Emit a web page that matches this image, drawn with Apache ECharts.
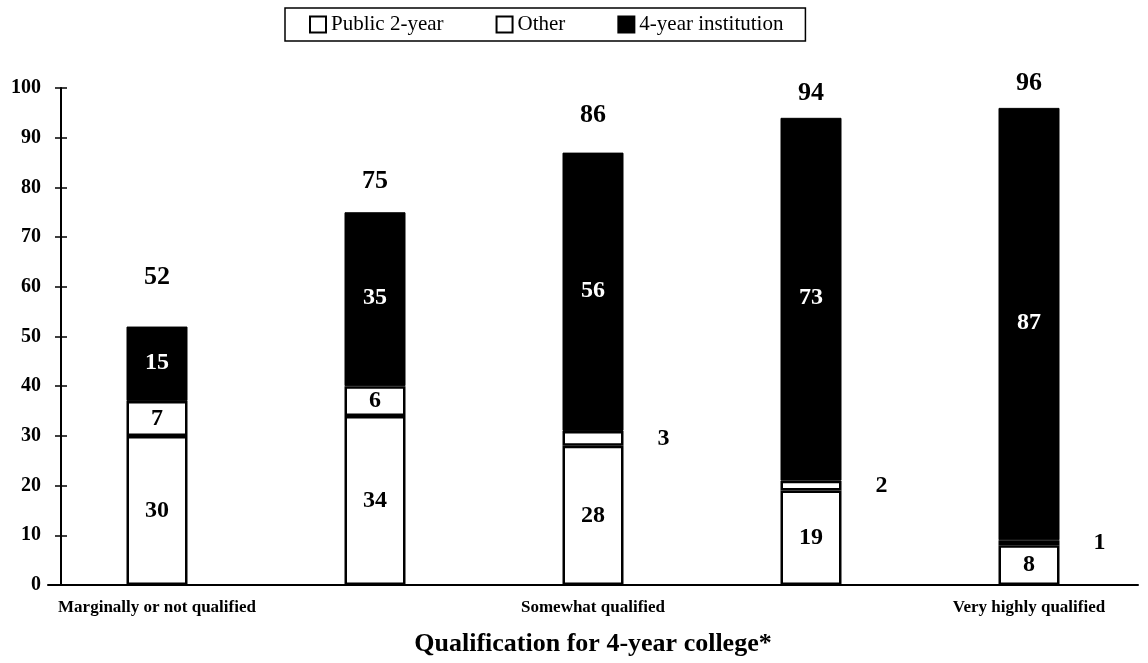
<!DOCTYPE html>
<html>
<head>
<meta charset="utf-8">
<script src="https://cdn.jsdelivr.net/npm/echarts@6/dist/echarts.min.js"></script>
<style>
  html, body { margin: 0; padding: 0; background: #fff; }
  #chart { width: 1148px; height: 663px; }
</style>
</head>
<body>
<div id="chart"></div>
<script>
// categories on the x axis (only every other one is labelled)
const categories = ['Marginally or not qualified', '', 'Somewhat qualified', '', 'Very highly qualified']
// percent by destination
const public2Year = [30, 34, 28, 19, 8]
const other = [7, 6, 3, 2, 1]
const fourYear = [15, 35, 56, 73, 87]
// totals printed above each bar
const totals = [52, 75, 86, 94, 96]
const yTicks = [0, 10, 20, 30, 40, 50, 60, 70, 80, 90, 100]

// label placement (styling only)
const totalGap = [36, 18, 24, 12, 12]
const otherOutside = [false, false, true, true, true]

const font = 'Liberation Serif, Times New Roman, serif'
const chart = echarts.init(document.getElementById('chart'))

const segLabel = {
  show: true,
  position: 'inside',
  fontFamily: font,
  fontWeight: 'bold',
  fontSize: 24,
  color: '#000'
}

const yBase = {
  type: 'value',
  min: 0,
  max: 100,
  interval: 10,
  offset: -13,
  splitLine: { show: false }
}

const option = {
  animation: false,
  backgroundColor: '#fff',
  legend: {
    top: 8,
    left: 285,
    padding: [6, 22, 6, 24],
    borderColor: '#000',
    borderWidth: 1.5,
    itemGap: 52,
    itemWidth: 16,
    itemHeight: 16,
    icon: 'rect',
    selectedMode: false,
    textStyle: { fontFamily: font, fontSize: 21, color: '#000' },
    data: ['Public 2-year', 'Other', '4-year institution']
  },
  grid: { left: 48, width: 1090, top: 88, bottom: 78, outerBoundsMode: 'none', containLabel: false },
  xAxis: {
    type: 'category',
    data: categories,
    name: 'Qualification for 4-year college*',
    nameLocation: 'middle',
    nameGap: 46,
    nameTextStyle: { fontFamily: font, fontWeight: 'bold', fontSize: 26, color: '#000' },
    axisLine: { lineStyle: { color: '#000', width: 2 } },
    axisTick: { show: false },
    axisLabel: { interval: 0, margin: 14, fontFamily: font, fontWeight: 'bold', fontSize: 17, color: '#000' }
  },
  yAxis: [
    Object.assign({}, yBase, {
      axisLine: { show: true, lineStyle: { color: '#000', width: 2 } },
      axisTick: { show: true, length: 6, lineStyle: { color: '#000', width: 1.5 } },
      axisLabel: {
        margin: 20,
        fontFamily: font,
        fontWeight: 'bold',
        fontSize: 20,
        color: '#000',
        formatter: v => (yTicks.includes(v) ? String(v) : '')
      }
    }),
    Object.assign({}, yBase, {
      position: 'left',
      axisLine: { show: false },
      axisTick: { show: true, inside: true, length: 6, lineStyle: { color: '#000', width: 1.5 } },
      axisLabel: { show: false }
    })
  ],
  series: [
    {
      name: 'Public 2-year',
      type: 'bar',
      stack: 'all',
      barWidth: 61,
      data: public2Year,
      itemStyle: { color: '#fff', borderColor: '#000', borderWidth: 2.5 },
      label: segLabel
    },
    {
      name: 'Other',
      type: 'bar',
      stack: 'all',
      data: other.map((v, i) => ({
        value: v,
        label: otherOutside[i]
          ? { position: 'right', distance: 34 }
          : { position: 'inside' }
      })),
      itemStyle: { color: '#fff', borderColor: '#000', borderWidth: 2.5 },
      label: segLabel
    },
    {
      name: '4-year institution',
      type: 'bar',
      stack: 'all',
      data: fourYear.map((v, i) => ({
        value: v,
        label: {
          show: true,
          position: 'top',
          distance: totalGap[i],
          formatter: String(totals[i]),
          color: '#000'
        }
      })),
      itemStyle: { color: '#000', borderColor: '#000', borderWidth: 1 },
      label: { fontFamily: font, fontWeight: 'bold', fontSize: 26 }
    },
    {
      // white segment labels on the black part
      name: 'inner',
      type: 'bar',
      stack: 'labels',
      barGap: '-100%',
      barWidth: 61,
      data: public2Year.map((v, i) => ({ value: v + other[i] + fourYear[i] / 2 })),
      itemStyle: { color: 'transparent' },
      silent: true,
      label: {
        show: true,
        position: 'insideTop',
        distance: -13,
        formatter: p => String(fourYear[p.dataIndex]),
        fontFamily: font,
        fontWeight: 'bold',
        fontSize: 24,
        color: '#fff'
      }
    }
  ]
}
chart.setOption(option)
</script>
</body>
</html>
